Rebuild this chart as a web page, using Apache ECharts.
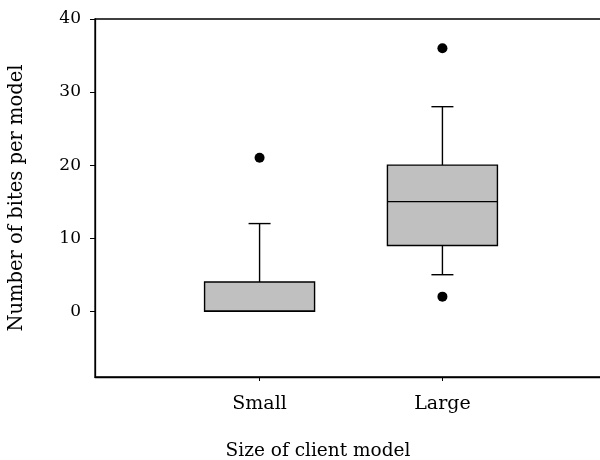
<!DOCTYPE html>
<html>
<head>
<meta charset="utf-8">
<script src="https://cdn.jsdelivr.net/npm/echarts@6/dist/echarts.min.js"></script>
<style>
  html, body { margin: 0; padding: 0; background: #fff; }
  #chart { width: 600px; height: 460px; }
</style>
</head>
<body>
<div id="chart"></div>
<script>
const categories = ["Small", "Large"];
const lowWhisker = [0, 5];
const q1 = [0, 9];
const medians = [0, 15];
const q3 = [4, 20];
const highWhisker = [12, 28];
// [group index, value]
const outliers = [[0, 21], [1, 36], [1, 2]];
const yTicks = [0, 10, 20, 30, 40];

const font = "DejaVu Serif";
const chart = echarts.init(document.getElementById("chart"));

const boxData = categories.map((c, i) => [i + 1, lowWhisker[i], q1[i], medians[i], q3[i], highWhisker[i]]);
const outlierData = outliers.map((o) => [o[0] + 1, o[1]]);

function renderBox(params, api) {
  const x = api.value(0);
  const lo = api.coord([x, api.value(1)]);
  const b1 = api.coord([x, api.value(2)]);
  const md = api.coord([x, api.value(3)]);
  const b3 = api.coord([x, api.value(4)]);
  const hi = api.coord([x, api.value(5)]);
  const half = 55;
  const cap = 11;
  const line = { stroke: "#000", lineWidth: 1.4 };
  const children = [];
  if (hi[1] < b3[1]) {
    children.push({ type: "line", shape: { x1: hi[0], y1: hi[1], x2: b3[0], y2: b3[1] }, style: line });
    children.push({ type: "line", shape: { x1: hi[0] - cap, y1: hi[1], x2: hi[0] + cap, y2: hi[1] }, style: line });
  }
  if (lo[1] > b1[1]) {
    children.push({ type: "line", shape: { x1: lo[0], y1: lo[1], x2: b1[0], y2: b1[1] }, style: line });
    children.push({ type: "line", shape: { x1: lo[0] - cap, y1: lo[1], x2: lo[0] + cap, y2: lo[1] }, style: line });
  }
  children.push({
    type: "rect",
    shape: { x: b3[0] - half, y: b3[1], width: half * 2, height: b1[1] - b3[1] },
    style: { fill: "#c0c0c0", stroke: "#000", lineWidth: 1.4 },
  });
  children.push({ type: "line", shape: { x1: md[0] - half, y1: md[1], x2: md[0] + half, y2: md[1] }, style: line });
  return { type: "group", children: children };
}

let option = {
  animation: false,
  textStyle: { fontFamily: font },
  grid: {
    left: 95,
    top: 19,
    bottom: 83,
    width: 512,
    outerBoundsMode: "none",
    containLabel: false,
    show: true,
    borderColor: "#000",
    borderWidth: 1.3,
  },
  xAxis: {
    type: "value",
    min: 0.1,
    max: 2.9,
    splitLine: { show: false },
    axisLine: { show: true, onZero: false, lineStyle: { color: "#000", width: 1.3 } },
    axisTick: { show: true, length: 4, customValues: [1, 2], lineStyle: { color: "#000" } },
    axisLabel: {
      customValues: [1, 2],
      formatter: (v) => categories[Math.round(v) - 1] || "",
      color: "#000",
      fontFamily: font,
      fontSize: 19,
      margin: 18,
    },
  },
  yAxis: {
    type: "value",
    min: -9,
    max: 40,
    name: "Number of bites per model",
    nameLocation: "middle",
    nameGap: 68,
    nameTextStyle: { color: "#000", fontFamily: font, fontSize: 19.5 },
    splitLine: { show: false },
    axisLine: { show: true, lineStyle: { color: "#000", width: 1.3 } },
    axisTick: { show: true, length: 5, customValues: yTicks, lineStyle: { color: "#000" } },
    axisLabel: { customValues: yTicks, color: "#000", fontFamily: font, fontSize: 17, margin: 14 },
  },
  graphic: [
    {
      type: "text",
      x: 318,
      y: 451,
      style: {
        text: "Size of client model",
        fill: "#000",
        font: "18.5px '" + font + "'",
        textAlign: "center",
        textVerticalAlign: "middle",
      },
    },
  ],
  series: [
    {
      type: "custom",
      renderItem: renderBox,
      encode: { x: 0, y: [1, 2, 3, 4, 5] },
      data: boxData,
      z: 2,
    },
    {
      type: "scatter",
      data: outlierData,
      symbolSize: 10,
      itemStyle: { color: "#000", opacity: 1 },
      z: 3,
    },
  ],
};

chart.setOption(option);
</script>
</body>
</html>
